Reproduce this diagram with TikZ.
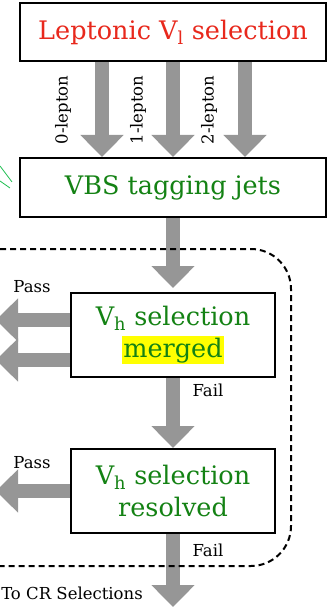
\documentclass[tikz,border=0pt]{standalone}
\usepackage{fontspec}
\setmainfont{DejaVu Serif}
\usetikzlibrary{arrows.meta,backgrounds}
\definecolor{arrowgray}{RGB}{150,150,150}
\definecolor{titlered}{RGB}{232,40,28}
\definecolor{boxgreen}{RGB}{20,130,20}
\definecolor{hlyellow}{RGB}{255,255,0}
\definecolor{linegreen}{RGB}{30,190,80}
\begin{document}
\begin{tikzpicture}[x=1pt,y=-1pt,
  box/.style={draw=black,line width=2pt,fill=white,inner sep=0pt,align=center,
    font=\fontsize{25.5}{32}\selectfont},
  fat/.style={draw=arrowgray,line width=14pt,-{Triangle[width=42pt,length=22pt]}},
  lbl/.style={font=\fontsize{16.5}{18}\selectfont,inner sep=0pt},
  region/.style={draw=black,line width=2pt,dash pattern=on 6pt off 4pt,rounded corners=40pt},
  scribble/.style={draw=linegreen,line width=0.8pt}
  ]
\useasboundingbox (0,0) rectangle (335,609);
% boxes
\node[box,minimum width=306pt,minimum height=58pt,text=titlered] (top) at (173,32)
  {Leptonic V\textsubscript{l} selection};
\node[box,minimum width=306pt,minimum height=59pt,text=boxgreen] (vbs) at (173,187.5)
  {VBS tagging jets};
\node[box,minimum width=204pt,minimum height=84pt,text=boxgreen] (merged) at (173,335)
  {V\textsubscript{h} selection\\{\setlength{\fboxsep}{1.5pt}\colorbox{hlyellow}{merged}}};
\node[box,minimum width=204pt,minimum height=84pt,text=boxgreen] (resolved) at (173,491)
  {V\textsubscript{h} selection\\resolved};
% labels
\node[lbl,rotate=90] (l0) at (63,110) {0-lepton};
\node[lbl,rotate=90] (l1) at (138,110) {1-lepton};
\node[lbl,rotate=90] (l2) at (209,110) {2-lepton};
\node[lbl] (pass1) at (32,287) {Pass};
\node[lbl] (pass2) at (32,463) {Pass};
\node[lbl] (fail1) at (208,390) {Fail};
\node[lbl] (fail2) at (208,550) {Fail};
\node[lbl] (tocr) at (72,593) {To CR Selections};
% free ends
\coordinate (xA) at (102,0);
\coordinate (xB) at (173,0);
\coordinate (xC) at (245,0);
\coordinate (pA) at (-4,320);
\coordinate (pB) at (-4,360);
\coordinate (pC) at (-4,491);
\coordinate (cr) at (173,607);
\begin{scope}[on background layer]
  \draw[fat] (top.south -| xA) -- (vbs.north -| xA);
  \draw[fat] (top.south -| xB) -- (vbs.north -| xB);
  \draw[fat] (top.south -| xC) -- (vbs.north -| xC);
  \draw[fat,shorten >=4pt] (vbs.south) -- (merged.north);
  \draw[fat] (merged.south) -- (resolved.north);
  \draw[fat] (resolved.south) -- (cr);
  \draw[fat] (merged.west |- pA) -- (pA);
  \draw[fat] (merged.west |- pB) -- (pB);
  \draw[fat] (resolved.west |- pC) -- (pC);
  \draw[region] (0,249) -- (291,249) -- (291,566) -- (0,566);
\end{scope}
\draw[scribble] (0,166) -- (12,182);
\draw[scribble] (0,181) -- (10,188);
\end{tikzpicture}
\end{document}
